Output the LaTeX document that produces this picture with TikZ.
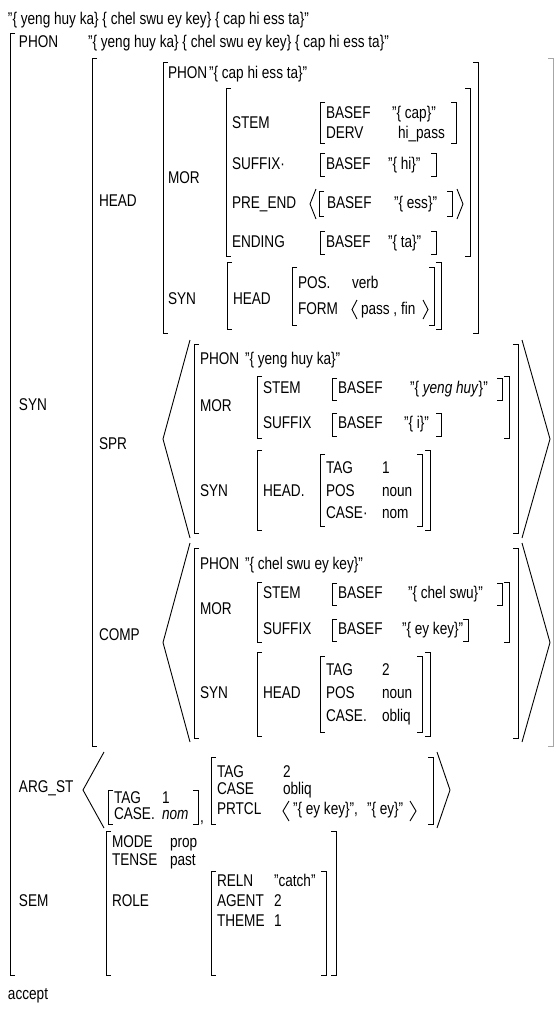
\documentclass[tikz,border=0pt]{standalone}
\usepackage{fontspec}
\setmainfont{Liberation Sans}[FakeStretch=0.80]
\tikzset{
  tx/.style={anchor=base west, inner sep=0pt, outer sep=0pt, font=\fontsize{17pt}{20pt}\selectfont},
  br/.style={line width=0.9pt, line cap=butt, line join=miter},
  faint/.style={line width=0.9pt, draw=black!35},
}
\newcommand\tnode[4]{\node[tx] (#1) at (#2,#3) {#4};}
\newcommand\lbrk[3]{\draw[br] ({#1+5},#2) -- (#1,#2) -- (#1,#3) -- ({#1+5},#3);}
\newcommand\rbrk[3]{\draw[br] ({#1-5},#2) -- (#1,#2) -- (#1,#3) -- ({#1-5},#3);}
\newcommand\angb[4]{\draw[br] (#2,#3) -- (#1,{(#3+#4)/2}) -- (#2,#4);}
\begin{document}
\begin{tikzpicture}[x=1pt,y=-1pt]
\useasboundingbox (0,0) rectangle (556,1012);
% line 1
\tnode{l1}{8}{24}{"\{ yeng huy ka\} \{ chel swu ey key\} \{ cap hi ess ta\}"}
% outer AVM
\lbrk{10}{33}{975}
\tnode{phon}{19}{47}{PHON}
\tnode{phonv}{88}{47}{"\{ yeng huy ka\} \{ chel swu ey key\} \{ cap hi ess ta\}"}
\tnode{syn}{19}{410}{SYN}
\tnode{argst}{19}{792}{ARG\_ST}
\tnode{sem}{19}{906}{SEM}
\tnode{acc}{8}{999}{accept}
% SYN value
\lbrk{92}{58}{746}
\draw[faint] (548,58) -- (553,58) -- (553,746) -- (548,746);
\tnode{head}{99}{206}{HEAD}
\tnode{spr}{99}{449}{SPR}
\tnode{comp}{99}{640}{COMP}
% HEAD value
\lbrk{163}{62}{333}\rbrk{478}{62}{333}
\tnode{hphon}{168}{78}{PHON}
\tnode{hphonv}{209}{78}{"\{ cap hi ess ta\}"}
\tnode{hmor}{168}{183}{MOR}
\lbrk{226}{88}{256}\rbrk{470}{88}{256}
\tnode{hstem}{232}{128}{STEM}
\lbrk{320}{102}{143}\rbrk{456}{102}{143}
\tnode{hb1}{326}{118}{BASEF}\tnode{hv1}{392}{118}{"\{ cap\}"}
\tnode{hderv}{326}{138}{DERV}\tnode{hdv}{398}{138}{hi\_pass}
\tnode{hsuf}{232}{169}{SUFFIX·}
\lbrk{320}{153}{176}\rbrk{436}{153}{176}
\tnode{hb2}{326}{169}{BASEF}\tnode{hv2}{388}{169}{"\{ hi\}"}
\tnode{hpre}{232}{208}{PRE\_END}
\angb{310}{316}{189}{219}
\lbrk{319}{191}{216}\rbrk{452}{191}{216}
\tnode{hb3}{327}{208}{BASEF}\tnode{hv3}{394}{208}{"\{ ess\}"}
\angb{463}{457}{189}{219}
\tnode{hend}{232}{247}{ENDING}
\lbrk{320}{231}{254}\rbrk{436}{231}{254}
\tnode{hb4}{326}{247}{BASEF}\tnode{hv4}{388}{247}{"\{ ta\}"}
\tnode{hsyn}{168}{304}{SYN}
\lbrk{227}{262}{329}\rbrk{441}{262}{329}
\tnode{hhead}{233}{304}{HEAD}
\lbrk{292}{267}{325}\rbrk{434}{267}{325}
\tnode{hpos}{298}{288}{POS.}\tnode{hposv}{352}{288}{verb}
\tnode{hform}{298}{314}{FORM}
\angb{352}{357}{300}{319}
\tnode{hformv}{361}{314}{pass , fin}
\angb{428}{423}{300}{319}
% SPR
\angb{163}{190}{340}{538}\angb{550}{522}{340}{538}
\lbrk{194}{344}{533}\rbrk{518}{344}{533}
\tnode{sphon}{200}{364}{PHON}\tnode{sphonv}{245}{364}{"\{ yeng huy ka\}"}
\tnode{smor}{200}{411}{MOR}
\lbrk{257}{376}{438}\rbrk{509}{376}{438}
\tnode{sstem}{263}{393}{STEM}
\lbrk{332}{378}{400}\rbrk{502}{378}{400}
\tnode{sb1}{338}{393}{BASEF}\tnode{sv1}{410}{393}{"\{ \textit{yeng huy}\}"}
\tnode{ssuf}{263}{428}{SUFFIX}
\lbrk{332}{413}{436}\rbrk{441}{413}{436}
\tnode{sb2}{338}{428}{BASEF}\tnode{sv2}{404}{428}{"\{ i\}"}
\tnode{ssyn}{200}{496}{SYN}
\lbrk{257}{450}{530}\rbrk{430}{450}{530}
\tnode{shead}{263}{496}{HEAD.}
\lbrk{320}{454}{526}\rbrk{422}{454}{526}
\tnode{stag}{326}{473}{TAG}\tnode{stagv}{382}{473}{1}
\tnode{spos}{326}{496}{POS}\tnode{sposv}{382}{496}{noun}
\tnode{scase}{326}{518}{CASE·}\tnode{scasev}{382}{518}{nom}
% COMP
\angb{163}{190}{543}{742}\angb{550}{522}{543}{742}
\lbrk{194}{548}{738}\rbrk{518}{548}{738}
\tnode{cphon}{200}{569}{PHON}\tnode{cphonv}{245}{569}{"\{ chel swu ey key\}"}
\tnode{cmor}{200}{614}{MOR}
\lbrk{257}{582}{642}\rbrk{509}{582}{642}
\tnode{cstem}{263}{598}{STEM}
\lbrk{332}{583}{605}\rbrk{502}{583}{605}
\tnode{cb1}{338}{598}{BASEF}\tnode{cv1}{408}{598}{"\{ chel swu\}"}
\tnode{csuf}{263}{634}{SUFFIX}
\lbrk{332}{619}{641}\rbrk{468}{619}{641}
\tnode{cb2}{338}{634}{BASEF}\tnode{cv2}{402}{634}{"\{ ey key\}"}
\tnode{csyn}{200}{698}{SYN}
\lbrk{257}{652}{736}\rbrk{430}{652}{736}
\tnode{chead}{263}{698}{HEAD}
\lbrk{320}{656}{732}\rbrk{422}{656}{732}
\tnode{ctag}{326}{675}{TAG}\tnode{ctagv}{382}{675}{2}
\tnode{cpos}{326}{698}{POS}\tnode{cposv}{382}{698}{noun}
\tnode{ccase}{326}{721}{CASE.}\tnode{ccasev}{382}{721}{obliq}
% ARG_ST
\angb{83}{104}{752}{828}
\lbrk{108}{790}{824}\rbrk{198}{790}{824}
\tnode{at1}{114}{803}{TAG}\tnode{at1v}{162}{803}{1}
\tnode{ac1}{114}{819}{CASE.}\tnode{ac1v}{162}{819}{\textit{nom}}
\tnode{acomma}{200}{822}{,}
\lbrk{211}{757}{824}\rbrk{433}{757}{824}
\tnode{at2}{217}{777}{TAG}\tnode{at2v}{283}{777}{2}
\tnode{ac2}{217}{794}{CASE}\tnode{ac2v}{283}{794}{obliq}
\tnode{apr}{217}{814}{PRTCL}
\angb{283}{289}{801}{821}
\tnode{aprv1}{293}{814}{"\{ ey key\}",}
\tnode{aprv2}{367}{814}{"\{ ey\}"}
\angb{416}{410}{801}{821}
\angb{450}{437}{752}{828}
% SEM
\lbrk{106}{831}{975}\rbrk{336}{831}{975}
\tnode{mode}{112}{847}{MODE}\tnode{modev}{170}{847}{prop}
\tnode{tense}{112}{865}{TENSE}\tnode{tensev}{170}{865}{past}
\tnode{role}{112}{906}{ROLE}
\lbrk{211}{871}{975}\rbrk{326}{871}{975}
\tnode{reln}{217}{886}{RELN}\tnode{relnv}{274}{886}{"catch"}
\tnode{agent}{217}{906}{AGENT}\tnode{agentv}{274}{906}{2}
\tnode{theme}{217}{926}{THEME}\tnode{themev}{274}{926}{1}
\end{tikzpicture}
\end{document}
